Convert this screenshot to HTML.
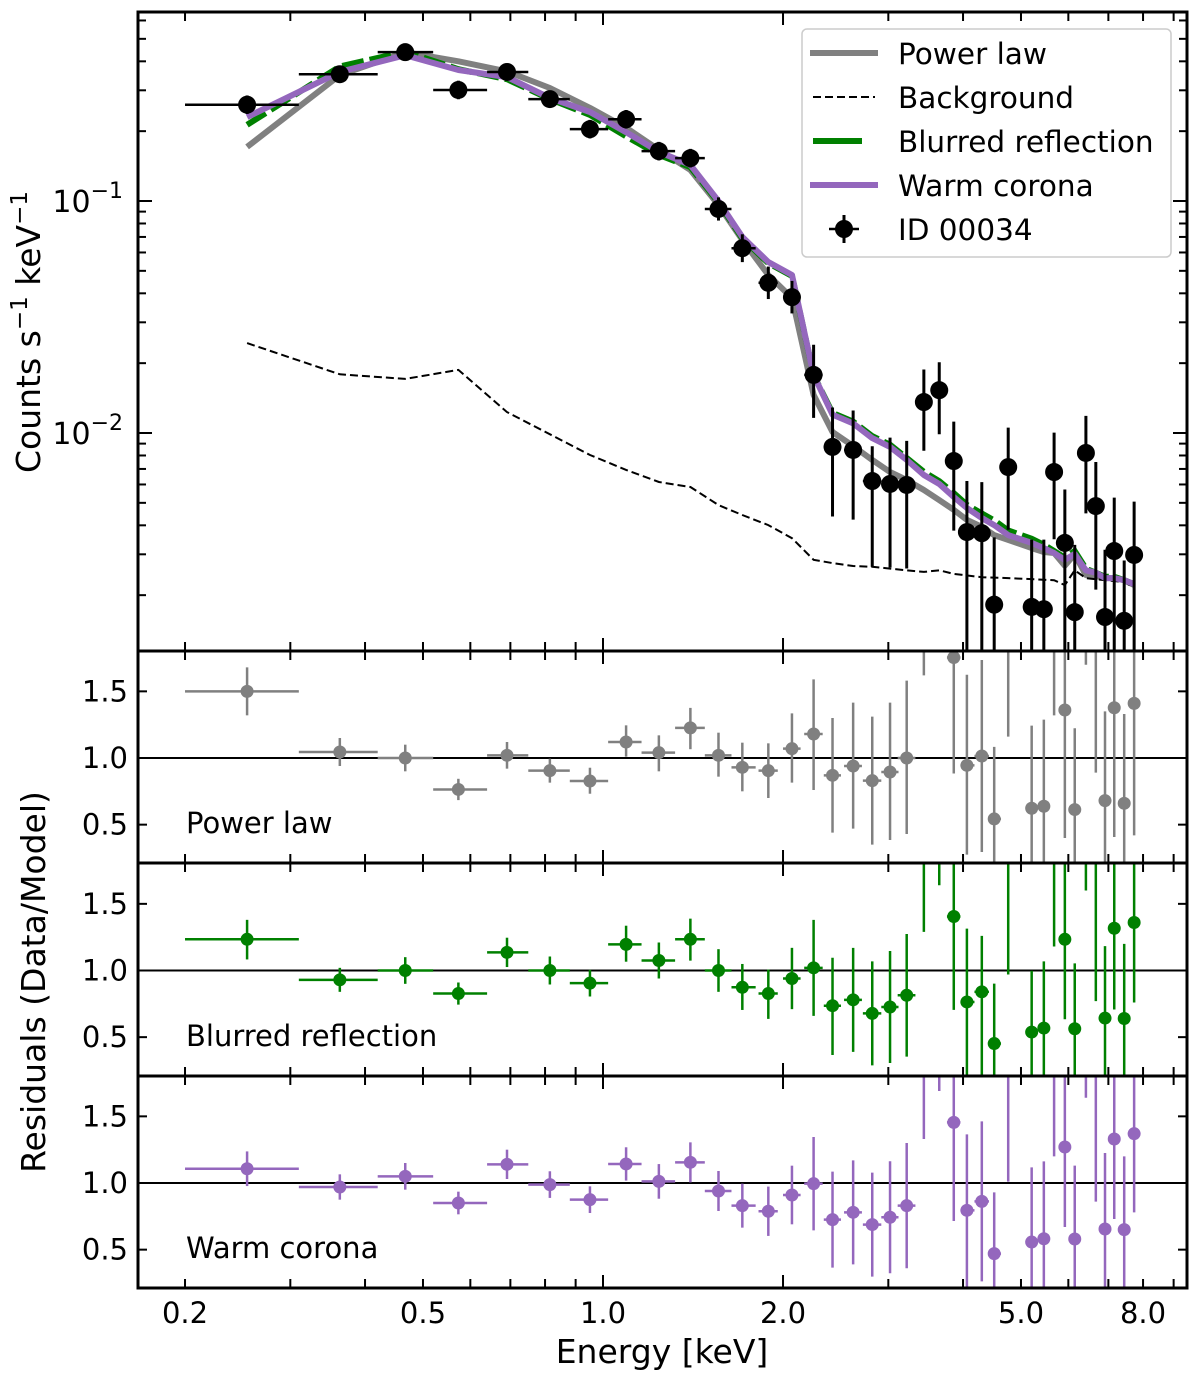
<!DOCTYPE html>
<html><head><meta charset="utf-8">
<style>
html,body{margin:0;padding:0;background:#fff;}
svg{display:block;font-family:"DejaVu Sans","Liberation Sans",sans-serif;}
</style></head>
<body>
<svg id="chart" xmlns="http://www.w3.org/2000/svg" width="1200" height="1382" viewBox="0 0 1200 1382">
<defs>
<clipPath id="clipMain"><rect x="138" y="12" width="1049" height="639"/></clipPath>
<clipPath id="clipP0"><rect x="138" y="651" width="1049" height="212"/></clipPath>
<clipPath id="clipP1"><rect x="138" y="863" width="1049" height="213"/></clipPath>
<clipPath id="clipP2"><rect x="138" y="1076" width="1049" height="212"/></clipPath>
</defs>
<g id="layer"></g>
</svg>
<script>
// ---- data ----
const energy=[0.254,0.363,0.467,0.573,0.691,0.815,0.951,1.093,1.24,1.40,1.56,1.71,1.89,2.07,2.25,2.42,2.62,2.82,3.02,3.22,3.44,3.65,3.86,4.06,4.30,4.51,4.76,5.21,5.46,5.68,5.92,6.15,6.42,6.67,6.91,7.16,7.44,7.73];
const binLo=[0.20,0.31,0.42,0.52,0.64,0.75,0.88,1.02,1.16,1.32,1.48,1.64,1.82,2.0,2.17,2.34,2.53,2.72,2.92,3.11,3.33,3.55,3.76,3.96,4.18,4.42,4.63,5.1,5.34,5.57,5.8,6.04,6.28,6.55,6.79,7.03,7.3,7.58];
const binHi=[0.31,0.42,0.52,0.64,0.75,0.88,1.02,1.16,1.32,1.48,1.64,1.80,1.96,2.14,2.33,2.5,2.71,2.92,3.12,3.33,3.55,3.76,3.96,4.18,4.42,4.63,4.9,5.33,5.57,5.8,6.04,6.28,6.55,6.79,7.03,7.3,7.58,7.88];
const rate=[0.260,0.352,0.438,0.301,0.360,0.275,0.204,0.225,0.164,0.153,0.0924,0.0626,0.0444,0.0385,0.0178,0.00871,0.00845,0.00621,0.00603,0.00597,0.0136,0.0153,0.00757,0.00374,0.00370,0.00182,0.00713,0.00178,0.00174,0.00679,0.00336,0.00169,0.00820,0.00484,0.00161,0.00310,0.00155,0.00298];
const rateErrUpDex=[0.04,0.03,0.03,0.04,0.03,0.03,0.04,0.04,0.04,0.04,0.05,0.06,0.07,0.07,0.13,0.17,0.17,0.15,0.20,0.19,0.14,0.12,0.17,0.22,0.22,0.29,0.17,0.29,0.30,0.17,0.23,0.29,0.16,0.19,0.29,0.23,0.26,0.23];
const rateErrDnDex=[0.04,0.03,0.03,0.04,0.03,0.03,0.04,0.04,0.04,0.04,0.05,0.06,0.07,0.07,0.185,0.30,0.30,0.37,0.36,0.36,0.21,0.19,0.30,1,1,1,0.27,1,1,0.29,1,1,0.26,0.36,1,1,1,1];
const modelPowerLaw=[0.171,0.349,0.438,0.400,0.362,0.307,0.252,0.207,0.166,0.136,0.0961,0.0679,0.0480,0.0382,0.0146,0.0101,0.00879,0.00766,0.00679,0.00627,0.00568,0.00514,0.00466,0.00422,0.00394,0.00363,0.00346,0.00319,0.00307,0.00304,0.00268,0.00300,0.00244,0.00242,0.00237,0.00237,0.00232,0.00221];
const modelBlurred=[0.213,0.38,0.44,0.37,0.335,0.275,0.235,0.19,0.158,0.14,0.0985,0.069,0.054,0.0475,0.0178,0.0122,0.0112,0.0097,0.0089,0.0078,0.0068,0.0062,0.0055,0.0049,0.0045,0.0042,0.0038,0.0035,0.0033,0.0031,0.0029,0.0031,0.0026,0.0025,0.0024,0.0024,0.00232,0.00223];
const modelWarm=[0.230,0.360,0.425,0.367,0.342,0.278,0.242,0.198,0.163,0.143,0.0999,0.0700,0.0546,0.0480,0.0178,0.0120,0.0110,0.00951,0.00871,0.00766,0.00659,0.00603,0.00530,0.00475,0.00430,0.00401,0.00363,0.00336,0.00319,0.00304,0.00284,0.00301,0.00256,0.00250,0.00237,0.00237,0.00232,0.00223];
const bgEnergy=[0.254,0.363,0.467,0.573,0.691,0.951,1.093,1.24,1.40,1.56,1.71,1.89,2.07,2.25,2.42,2.62,2.82,3.22,3.44,3.65,3.86,4.30,4.76,5.68,5.92,6.15,6.42,6.91,7.44,7.73];
const bgRate=[0.0244,0.0179,0.0171,0.0187,0.0123,0.00804,0.00693,0.00615,0.00585,0.00489,0.00443,0.00401,0.00352,0.00284,0.00275,0.00267,0.00265,0.00256,0.00252,0.00256,0.00247,0.00239,0.00237,0.00232,0.00221,0.00256,0.00237,0.00232,0.00228,0.00215];
const resPowerLaw=[1.50,1.045,1.00,0.764,1.02,0.905,0.827,1.12,1.04,1.226,1.02,0.93,0.905,1.07,1.18,0.87,0.94,0.83,0.895,1.0,2.4,3.0,1.754,0.945,1.015,0.543,2.06,0.623,0.638,2.23,1.36,0.613,3.36,2.0,0.68,1.377,0.66,1.41];
const resPowerLawUp=[0.18,0.105,0.10,0.08,0.10,0.09,0.10,0.125,0.13,0.15,0.17,0.185,0.205,0.265,0.41,0.43,0.475,0.48,0.52,0.58,0.9,1,0.9,0.68,0.72,0.54,0.9,0.62,0.65,0.9,0.86,0.61,1,1,0.67,0.95,0.67,0.95];
const resPowerLawDn=[0.18,0.105,0.10,0.08,0.10,0.09,0.095,0.11,0.14,0.16,0.16,0.18,0.205,0.255,0.42,0.43,0.47,0.48,0.51,0.57,0.78,1,0.87,0.67,0.72,0.6,0.9,0.6,0.6,0.91,0.96,0.6,1.66,1.11,0.6,0.97,0.6,0.99];
const resBlurred=[1.234,0.93,1.0,0.827,1.136,1.0,0.905,1.196,1.075,1.234,1.0,0.874,0.827,0.94,1.02,0.736,0.78,0.678,0.726,0.814,2.06,2.54,1.405,0.764,0.84,0.452,1.96,0.538,0.568,2.13,1.234,0.563,3.2,1.94,0.643,1.317,0.64,1.36];
const resBlurredUp=[0.146,0.09,0.1,0.083,0.11,0.105,0.1,0.14,0.135,0.155,0.16,0.175,0.18,0.23,0.36,0.36,0.39,0.39,0.42,0.46,0.9,1,0.85,0.55,0.42,0.45,0.9,0.46,0.5,0.9,0.85,0.49,1,1,0.54,0.85,0.56,0.85];
const resBlurredDn=[0.151,0.09,0.1,0.083,0.11,0.105,0.1,0.13,0.135,0.16,0.16,0.17,0.19,0.23,0.36,0.37,0.39,0.39,0.42,0.46,0.77,0.9,0.7,0.55,0.75,0.5,0.99,0.5,0.5,0.95,0.6,0.5,1.6,1.17,0.6,0.61,0.6,0.6];
const resWarm=[1.107,0.97,1.05,0.85,1.14,0.988,0.875,1.143,1.012,1.155,0.94,0.83,0.788,0.91,0.995,0.725,0.78,0.688,0.743,0.83,2.06,2.54,1.455,0.795,0.862,0.47,1.96,0.557,0.582,2.2,1.27,0.58,3.2,1.94,0.655,1.33,0.65,1.37];
const resWarmUp=[0.13,0.095,0.1,0.085,0.11,0.1,0.1,0.125,0.13,0.15,0.15,0.165,0.185,0.22,0.35,0.36,0.39,0.39,0.42,0.47,0.9,1,0.85,0.57,0.6,0.46,0.9,0.56,0.58,0.9,0.85,0.55,1,1,0.57,0.85,0.55,0.85];
const resWarmDn=[0.13,0.095,0.1,0.085,0.11,0.1,0.1,0.125,0.13,0.15,0.15,0.165,0.185,0.22,0.35,0.36,0.39,0.39,0.42,0.47,0.73,0.85,0.74,0.6,0.6,0.5,0.95,0.56,0.58,1.0,0.6,0.58,1.56,1.08,0.6,0.6,0.6,0.59];
const xTickValues=[0.2,0.5,1.0,2.0,5.0,8.0];
const xTickLabels=['0.2','0.5','1.0','2.0','5.0','8.0'];
const xMinorValues=[0.3,0.4,0.6,0.7,0.8,0.9,3,4,6,7,9];
const yMajorExp=[-1,-2];
const yMinorValues=[0.002,0.003,0.004,0.005,0.006,0.007,0.008,0.009,0.02,0.03,0.04,0.05,0.06,0.07,0.08,0.09,0.2,0.3,0.4,0.5,0.6];
const resTickValues=[0.5,1.0,1.5];
const resTickLabels=['0.5','1.0','1.5'];

// ---- axes ----
const L=138,R=1187,T=12,MB=651;
const panelTop=[651,863,1076];
const panelBottom=[863,1076,1288];
const panelCenter=[758,970.5,1183];
function X(e){return 603+598*Math.log10(e);}
function Y(v){return 201-232*(Math.log10(v)+1);}
function RY(p,r){return panelCenter[p]-133.3*(r-1);}
const NS='http://www.w3.org/2000/svg';
const layer=document.getElementById('layer');
function mk(tag,attrs,parent){const el=document.createElementNS(NS,tag);for(const k in attrs)el.setAttribute(k,attrs[k]);(parent||layer).appendChild(el);return el;}

const gMain=mk('g',{'clip-path':'url(#clipMain)'});



function polyPts(xs,ys){return xs.map((e,i)=>X(e).toFixed(1)+','+Y(ys[i]).toFixed(1)).join(' ');}
let el;
el=mk('polyline',{points:polyPts(energy,modelPowerLaw),fill:'none',stroke:'#808080','stroke-width':6,'stroke-linejoin':'round'},gMain);


el=mk('polyline',{points:polyPts(bgEnergy,bgRate),fill:'none',stroke:'#000','stroke-width':2,'stroke-dasharray':'8 4'},gMain);


el=mk('polyline',{points:polyPts(energy,modelBlurred),fill:'none',stroke:'#008000','stroke-width':6,'stroke-dasharray':'22 6'},gMain);


el=mk('polyline',{points:polyPts(energy,modelWarm),fill:'none',stroke:'#9467bd','stroke-width':6,'stroke-linejoin':'round'},gMain);



energy.forEach((e,i)=>{
  const g=mk('g',{},gMain);
  
  
  const cx=X(e),cy=Y(rate[i]);
  const y1=201-232*(Math.log10(rate[i])+rateErrUpDex[i]+1);
  const y2=201-232*(Math.log10(rate[i])-rateErrDnDex[i]+1);
  let h=mk('line',{x1:X(binLo[i]),x2:X(binHi[i]),y1:cy,y2:cy,stroke:'#000','stroke-width':2.5},g);
  
  
  let v=mk('line',{x1:cx,x2:cx,y1:y1,y2:y2,stroke:'#000','stroke-width':3},g);
  
  
  let c=mk('circle',{cx:cx,cy:cy,r:9,fill:'#000'},g);
  
  
});

const resSets=[[resPowerLaw,resPowerLawUp,resPowerLawDn,'#808080','Power law','power-law'],
               [resBlurred,resBlurredUp,resBlurredDn,'#008000','Blurred reflection','blurred-reflection'],
               [resWarm,resWarmUp,resWarmDn,'#9467bd','Warm corona','warm-corona']];
resSets.forEach((s,p)=>{
  const g=mk('g',{'clip-path':'url(#clipP'+p+')'});
  
  
  let ref=mk('line',{x1:L,x2:R,y1:RY(p,1),y2:RY(p,1),stroke:'#000','stroke-width':2},g);
  
  
  s[0].forEach((r,i)=>{
    const cx=X(energy[i]),cy=RY(p,r);
    let h=mk('line',{x1:X(binLo[i]),x2:X(binHi[i]),y1:cy,y2:cy,stroke:s[3],'stroke-width':2.5},g);
    
    
    let v=mk('line',{x1:cx,x2:cx,y1:RY(p,r+s[1][i]),y2:RY(p,r-s[2][i]),stroke:s[3],'stroke-width':2.5},g);
    
    
    let c=mk('circle',{cx:cx,cy:cy,r:6.5,fill:s[3]},g);
    
    
  });
  let t=mk('text',{x:186,y:panelBottom[p]-30,'font-size':29,fill:'#000'});
  t.textContent=s[4];
  
  
});

function tick(x1,y1,x2,y2,name){const t=mk('line',{x1:x1,y1:y1,x2:x2,y2:y2,stroke:'#000','stroke-width':2});}
const panelTops=[T].concat(panelTop), panelBots=[MB].concat(panelBottom);
for(let k=0;k<4;k++){
  xTickValues.forEach(v=>{const len=(v===1.0||v===2.0)?13:9;tick(X(v),panelTops[k],X(v),panelTops[k]+len,'x-major-tick');tick(X(v),panelBots[k],X(v),panelBots[k]-len,'x-major-tick');});
  xMinorValues.forEach(v=>{tick(X(v),panelTops[k],X(v),panelTops[k]+9,'x-minor-tick');tick(X(v),panelBots[k],X(v),panelBots[k]-9,'x-minor-tick');});
}
yMajorExp.forEach(ex=>{const y=Y(Math.pow(10,ex));tick(L,y,L+14,y,'y-major-tick');tick(R,y,R-14,y,'y-major-tick');
  const t=mk('text',{x:123,y:y+11,'font-size':30,'text-anchor':'end',fill:'#000'});
  
  
  t.innerHTML='10<tspan dy="-14" font-size="22">−'+(-ex)+'</tspan>';
});
yMinorValues.forEach(v=>{const y=Y(v);if(y>T&&y<MB){tick(L,y,L+8,y,'y-minor-tick');tick(R,y,R-8,y,'y-minor-tick');}});
for(let p=0;p<3;p++){
  resTickValues.forEach((v,i)=>{const y=RY(p,v);tick(L,y,L+9,y,'residual-y-tick');tick(R,y,R-9,y,'residual-y-tick');
    const t=mk('text',{x:128,y:y+10,'font-size':29,'text-anchor':'end',fill:'#000'});
    t.textContent=resTickLabels[i];
    
    
  });
}
for(let k=0;k<4;k++){
  const f=mk('rect',{x:L,y:panelTops[k],width:R-L,height:panelBots[k]-panelTops[k],fill:'none',stroke:'#000','stroke-width':3});
  
  
}
xTickValues.forEach((v,i)=>{const t=mk('text',{x:X(v),y:1323,'font-size':29,'text-anchor':'middle',fill:'#000'});
  t.textContent=xTickLabels[i];
  
  
});
el=mk('text',{x:662,y:1363,'font-size':33,'text-anchor':'middle',fill:'#000'});
el.textContent='Energy [keV]';


el=mk('text',{x:0,y:0,'font-size':33,'text-anchor':'middle',fill:'#000',transform:'translate(40,332) rotate(-90)'});
el.innerHTML='Counts s<tspan dy="-13" font-size="23">−1</tspan><tspan dy="13"> keV</tspan><tspan dy="-13" font-size="23">−1</tspan>';


el=mk('text',{x:0,y:0,'font-size':33,'text-anchor':'middle',fill:'#000',transform:'translate(45,982) rotate(-90)'});
el.textContent='Residuals (Data/Model)';



const lg=mk('g',{});


el=mk('rect',{x:802,y:29,width:369,height:228,rx:5,fill:'#fff','fill-opacity':0.85,stroke:'#cccccc','stroke-width':1.5},lg);


const legNames=['Power law','Background','Blurred reflection','Warm corona','ID 00034'];
const legY=[53,97,141,185,229];
el=mk('line',{x1:810,x2:878,y1:legY[0],y2:legY[0],stroke:'#808080','stroke-width':6},lg);


el=mk('line',{x1:813,x2:875,y1:legY[1],y2:legY[1],stroke:'#000','stroke-width':2,'stroke-dasharray':'8 4'},lg);


el=mk('line',{x1:813,x2:862,y1:legY[2],y2:legY[2],stroke:'#008000','stroke-width':6},lg);


el=mk('line',{x1:810,x2:878,y1:legY[3],y2:legY[3],stroke:'#9467bd','stroke-width':6},lg);


el=mk('line',{x1:829,x2:859,y1:legY[4],y2:legY[4],stroke:'#000','stroke-width':2.5},lg);


el=mk('line',{x1:844,x2:844,y1:legY[4]-14,y2:legY[4]+14,stroke:'#000','stroke-width':3},lg);


el=mk('circle',{cx:844,cy:legY[4],r:9,fill:'#000'},lg);


legNames.forEach((n,i)=>{const t=mk('text',{x:898,y:legY[i]+11,'font-size':29.5,fill:'#000'},lg);
  t.textContent=n;
  
  
});
</script>
</body></html>
